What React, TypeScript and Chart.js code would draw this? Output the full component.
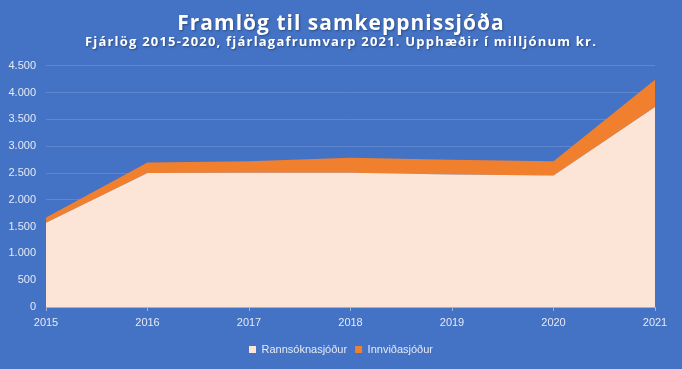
import React, { useEffect, useRef } from "react";
import { Chart, registerables } from "chart.js";

Chart.register(...registerables);

const years = ["2015", "2016", "2017", "2018", "2019", "2020", "2021"];
const rannsoknasjodur = [1570, 2500, 2505, 2505, 2470, 2455, 3730];
const innvidasjodur = [100, 195, 215, 280, 275, 265, 510];
const yTicks = [0, 500, 1000, 1500, 2000, 2500, 3000, 3500, 4000, 4500];

const TITLE = "Framlög til samkeppnissjóða";
const SUBTITLE = "Fjárlög 2015-2020, fjárlagafrumvarp 2021. Upphæðir í milljónum kr.";

const BG = "#4472C4";
const TXT = "#E4EAF6";

const spacingPlugin = {
  id: "spacingPlugin",
  beforeLayout(chart: any) {
    const lg = chart.legend;
    if (lg && !lg._fixed) {
      lg._fixed = true;
      const origFit = lg.fit.bind(lg);
      lg.fit = () => {
        origFit();
        lg.height = 33;
      };
    }
  },
  beforeDraw(chart: any) {
    chart.boxes.forEach((b: any) => {
      if (b._spaced || !b.options) return;
      let sp = "";
      if (b.options.text === TITLE) sp = "1px";
      else if (b.options.text === SUBTITLE) sp = "1.2px";
      else return;
      b._spaced = true;
      const orig = b.draw.bind(b);
      b.draw = (a: any) => {
        const ctx = chart.ctx;
        ctx.save();
        (ctx as any).letterSpacing = sp;
        ctx.shadowColor = "rgba(0,0,0,0.35)";
        ctx.shadowOffsetX = 1;
        ctx.shadowOffsetY = 1;
        ctx.shadowBlur = 2;
        orig(a);
        ctx.restore();
      };
    });
  },
};

export default function App() {
  const ref = useRef<HTMLCanvasElement | null>(null);
  useEffect(() => {
    if (!ref.current) return;
    const chart = new Chart(ref.current, {
      type: "line",
      plugins: [spacingPlugin as any],
      data: {
        labels: years,
        datasets: [
          {
            label: "Rannsóknasjóður",
            data: rannsoknasjodur,
            backgroundColor: "#FCE4D6",
            borderColor: "#FCE4D6",
            borderWidth: 0,
            pointRadius: 0,
            fill: "origin",
            tension: 0,
          },
          {
            label: "Innviðasjóður",
            data: innvidasjodur,
            backgroundColor: "#F07F2E",
            borderColor: "#E0742A",
            borderWidth: 0,
            pointRadius: 0,
            fill: "-1",
            tension: 0,
          },
        ],
      },
      options: {
        animation: false,
        responsive: false,
        maintainAspectRatio: false,
        layout: { padding: { left: 0, right: 0, top: 11, bottom: 0 } },
        plugins: {
          title: {
            display: true,
            text: TITLE,
            color: "#FFFFFF",
            font: { family: "Open Sans", size: 21, weight: "bold" },
            padding: { top: 0, bottom: -2 },
          },
          subtitle: {
            display: true,
            text: SUBTITLE,
            color: "#FFFFFF",
            font: { family: "Open Sans", size: 13, weight: "bold" },
            padding: { top: 0, bottom: 16 },
          },
          legend: {
            position: "bottom",
            labels: {
              color: TXT,
              font: { family: "Liberation Sans", size: 11 },
              boxWidth: 7,
              boxHeight: 7,
              padding: 8,
            },
          },
          tooltip: { enabled: false },
        },
        scales: {
          x: {
            offset: false,
            afterFit: (s: any) => {
              s.height = 29;
            },
            grid: {
              display: true,
              drawOnChartArea: false,
              drawTicks: true,
              tickLength: 4,
              color: "#9DB3DE",
            },
            border: { display: true, color: "#9DB3DE" },
            ticks: {
              color: TXT,
              font: { family: "Liberation Sans", size: 11 },
              padding: 5,
              maxRotation: 0,
            },
          },
          y: {
            stacked: true,
            min: 0,
            max: 4500,
            afterFit: (s: any) => {
              s.width = 46;
            },
            afterBuildTicks: (s: any) => {
              s.ticks = yTicks.map((v) => ({ value: v }));
            },
            grid: { color: "#5E87D0", drawTicks: false },
            border: { display: false },
            ticks: {
              color: TXT,
              font: { family: "Liberation Sans", size: 11 },
              padding: 10,
              callback: (v: any) => Number(v).toLocaleString("de-DE"),
            },
          },
          yRight: {
            type: "linear",
            position: "right",
            display: true,
            min: 0,
            max: 1,
            afterFit: (s: any) => {
              s.width = 27;
            },
            grid: { display: false, drawTicks: false },
            border: { display: false },
            ticks: { display: false },
          },
        },
      },
    });
    return () => chart.destroy();
  }, []);
  return (
    <div style={{ position: "fixed", left: 0, top: 0, width: 682, height: 369, background: BG }}>
      <canvas ref={ref} width={682} height={369} style={{ display: "block" }} />
    </div>
  );
}
